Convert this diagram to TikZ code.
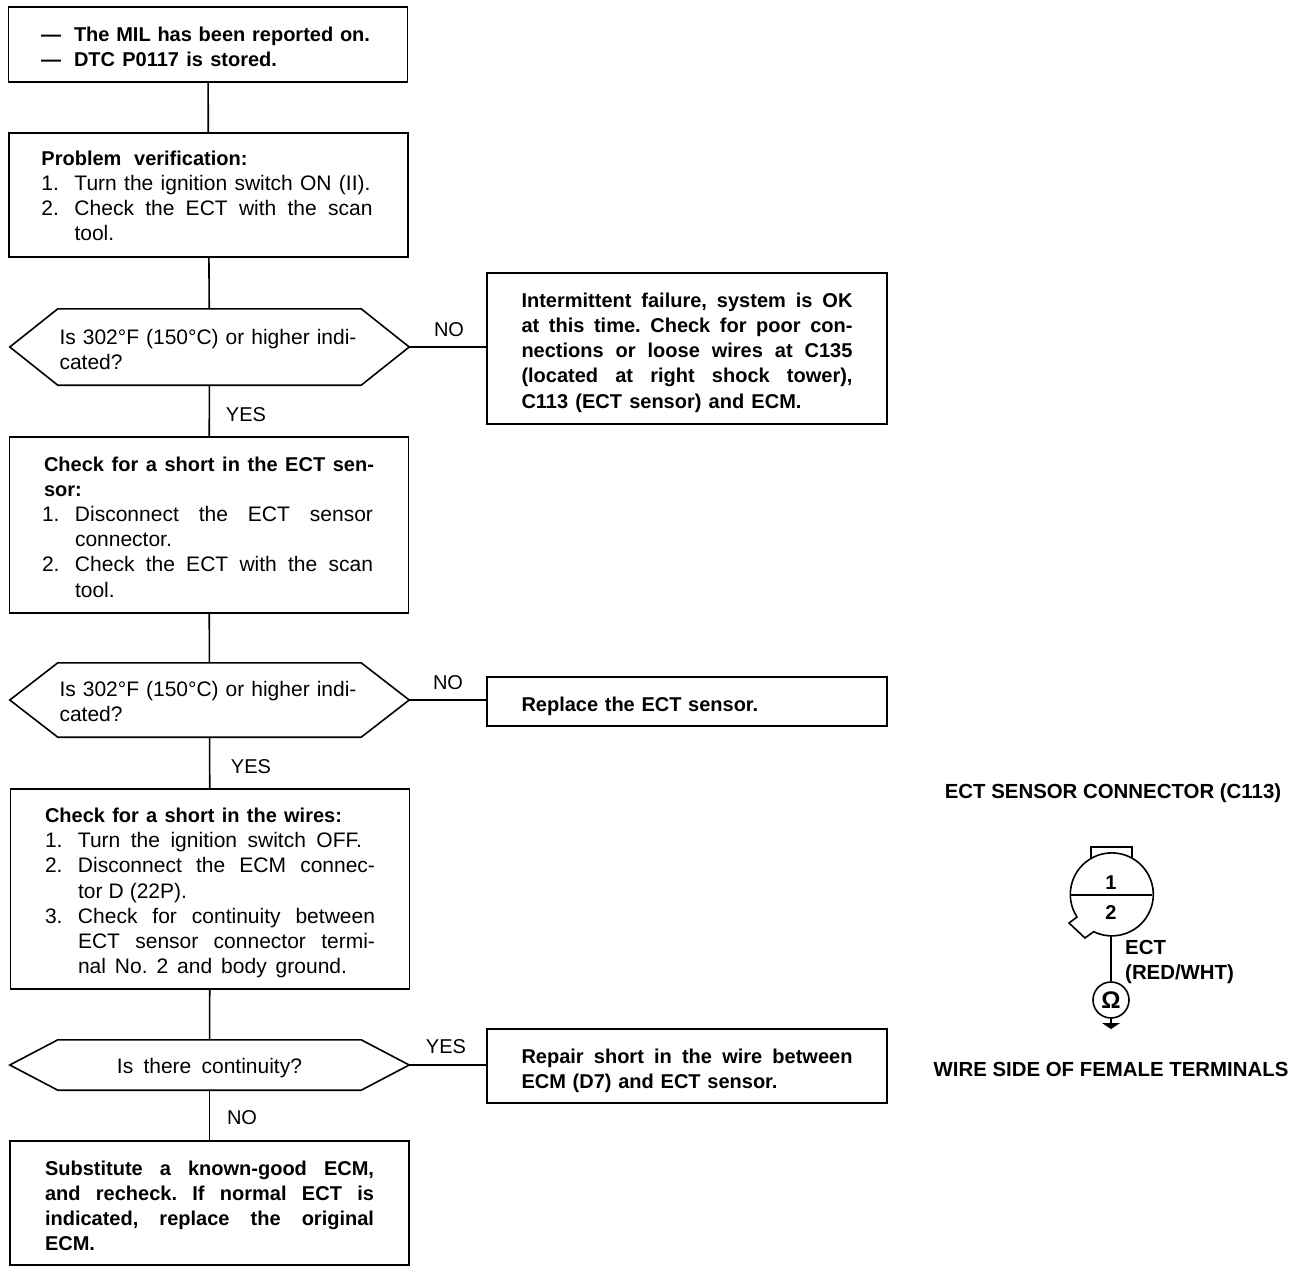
\documentclass[tikz,border=0pt]{standalone}
\usepackage{fontspec}
\setmainfont{Liberation Sans}

\newcommand{\fillline}[2]{\makebox[#1pt][s]{\frenchspacing\spaceskip=0pt\xspaceskip=0pt #2}}
\newcommand{\stepline}[3][298]{\makebox[33pt][l]{#2}\fillline{#1}{#3}}
\newcommand{\stepmore}[2][298]{\hspace*{33pt}\fillline{#1}{#2}}
\newcommand{\boldhead}[2]{{\fontsize{20}{25.2}\selectfont\bfseries\fillline{#1}{#2}}}
\newcommand{\hexoutline}[1]{\draw[wire] (#1.west) -- ([xshift=48pt]#1.north west) -- ([xshift=-48pt]#1.north east) -- (#1.east) -- ([xshift=-48pt]#1.south east) -- ([xshift=48pt]#1.south west) -- cycle;}

\tikzset{
	every node/.style={font=\fontsize{20}{25.2}\selectfont},
	drop/.style={execute at begin node={\rule{0pt}{\dimexpr 14.5pt+2\dimexpr #1pt\relax\relax}}},
	textbox/.style={draw,line width=1.6pt,inner xsep=0pt,inner ysep=0pt,align=left,text width=334pt,minimum width=399pt,font=\fontsize{21}{25.2}\selectfont},
	sidebox/.style={textbox,text width=331pt,minimum width=400pt},
	hexbox/.style={inner sep=0pt,align=left,text width=300pt,minimum width=399pt,font=\fontsize{21}{25.2}\selectfont},
	boldtext/.style={font=\fontsize{20}{25.2}\selectfont\bfseries},
	titletext/.style={font=\fontsize{20.4}{25.2}\selectfont\bfseries},
	branch/.style={inner sep=0pt},
	wire/.style={line width=1.6pt},
}

\begin{document}
\begin{tikzpicture}[x=1pt,y=-1pt]
\useasboundingbox (0,0) rectangle (1312,1272);

\node[textbox,boldtext,drop=2,minimum height=75pt] (start) at (208,44.5) {\makebox[33pt][l]{---}\fillline{296}{The MIL has been reported on.}\\\makebox[33pt][l]{---}\fillline{203}{DTC P0117 is stored.}};
\node[textbox,drop=1,minimum height=124pt] (verify) at (208.5,195) {\boldhead{206}{Problem verification:}\\\stepline[296]{1.}{Turn the ignition switch ON (II).}\\\stepline{2.}{Check the ECT with the scan}\\\stepmore[44]{tool.}};
\node[hexbox,drop=3,minimum height=76pt] (firstcheck) at (209.5,347) {\fillline{297}{Is 302°F (150°C) or higher indi-}\\cated?};
\hexoutline{firstcheck}
\node[sidebox,boldtext,drop=4,minimum height=151pt] (intermittent) at (687,348.5) {\fillline{331}{Intermittent failure, system is OK}\\\fillline{331}{at this time. Check for poor con-}\\\fillline{331}{nections or loose wires at C135}\\\fillline{331}{(located at right shock tower),}\\\fillline{280}{C113 (ECT sensor) and ECM.}};

\node[textbox,drop=2,minimum height=176pt] (sensorshort) at (209,525) {\hspace*{2pt}\boldhead{330}{Check for a short in the ECT sen-}\\\hspace*{2pt}\boldhead{40}{sor:}\\\stepline{1.}{Disconnect the ECT sensor}\\\stepmore[104]{connector.}\\\stepline{2.}{Check the ECT with the scan}\\\stepmore[44]{tool.}};
\node[hexbox,drop=2,minimum height=74pt] (secondcheck) at (209.5,700) {\fillline{297}{Is 302°F (150°C) or higher indi-}\\cated?};
\hexoutline{secondcheck}
\node[sidebox,boldtext,drop=5,minimum height=49pt] (replace) at (687,701.5) {Replace the ECT sensor.};

\node[textbox,drop=4,text width=330pt,minimum height=200pt] (wireshort) at (210,889) {\boldhead{297}{Check for a short in the wires:}\\\stepline[284]{1.}{Turn the ignition switch OFF.}\\\stepline[297]{2.}{Disconnect the ECM connec-}\\\stepmore[109]{tor D (22P).}\\\stepline[297]{3.}{Check for continuity between}\\\stepmore[297]{ECT sensor connector termi-}\\\stepmore[269]{nal No. 2 and body ground.}};
\node[hexbox,drop=3,align=center,minimum height=50pt] (continuity) at (209.5,1065) {\fillline{185}{Is there continuity?}};
\hexoutline{continuity}
\node[sidebox,boldtext,drop=5,minimum height=74pt] (repair) at (687,1066) {\fillline{331}{Repair short in the wire between}\\\fillline{256}{ECM (D7) and ECT sensor.}};
\node[textbox,boldtext,drop=3,text width=329pt,minimum height=124pt] (substitute) at (209.5,1203) {\fillline{329}{Substitute a known-good ECM,}\\\fillline{329}{and recheck. If normal ECT is}\\\fillline{329}{indicated, replace the original}\\ECM.};

\draw[wire] (start) -- (verify);
\draw[wire] (verify) -- (firstcheck);
\draw[wire] (firstcheck.east) -- (firstcheck.east -| intermittent.west);
\draw[wire] (firstcheck) -- (sensorshort);
\draw[wire] (sensorshort) -- (secondcheck);
\draw[wire] (secondcheck.east) -- (secondcheck.east -| replace.west);
\draw[wire] (secondcheck) -- (wireshort);
\draw[wire] (wireshort) -- (continuity);
\draw[wire] (continuity.east) -- (continuity.east -| repair.west);
\draw[wire] (continuity) -- (substitute);

\node[branch] (no1) at (449,330) {NO};
\node[branch] (yes1) at (246,415) {YES};
\node[branch] (no2) at (448,683) {NO};
\node[branch] (yes2) at (251,767) {YES};
\node[branch] (yes3) at (446,1047) {YES};
\node[branch] (no3) at (242,1118) {NO};

% connector
\node[branch,titletext] (title) at (1113,793.5) {ECT SENSOR CONNECTOR (C113)};
\draw[wire] (1077,917) arc[start angle=213,end angle=-116,radius=41.5pt] -- (1085,938) -- (1069,923) -- cycle;
\draw[wire] (1091,858) -- (1091,847) -- (1132,847) -- (1132,858);
\coordinate (dividerL) at (1071,895);
\coordinate (dividerR) at (1152,895);
\draw[line width=1.2pt] (dividerL) -- (dividerR);
\node[branch,boldtext] (pin1) at (1111,883) {1};
\node[branch,boldtext] (pin2) at (1111,913) {2};
\coordinate (wiretop) at (1111,936);
\node[draw,circle,line width=1.6pt,minimum size=36pt,inner sep=0pt,font=\fontsize{24}{25.2}\selectfont\bfseries] (meter) at (1111,1000) {Ω};
\draw[wire] (wiretop) -- (meter);
\coordinate (groundtop) at (1111,1023);
\draw[wire] (meter) -- (groundtop);
\fill (1102,1023) -- (1120,1023) -- (1111,1029) -- cycle;
\node[branch,titletext,anchor=west,align=left] (wirelabel) at (1125,962) {ECT\\(RED/WHT)};
\node[branch,titletext] (side) at (1111,1069) {WIRE SIDE OF FEMALE TERMINALS};

\end{tikzpicture}
\end{document}
